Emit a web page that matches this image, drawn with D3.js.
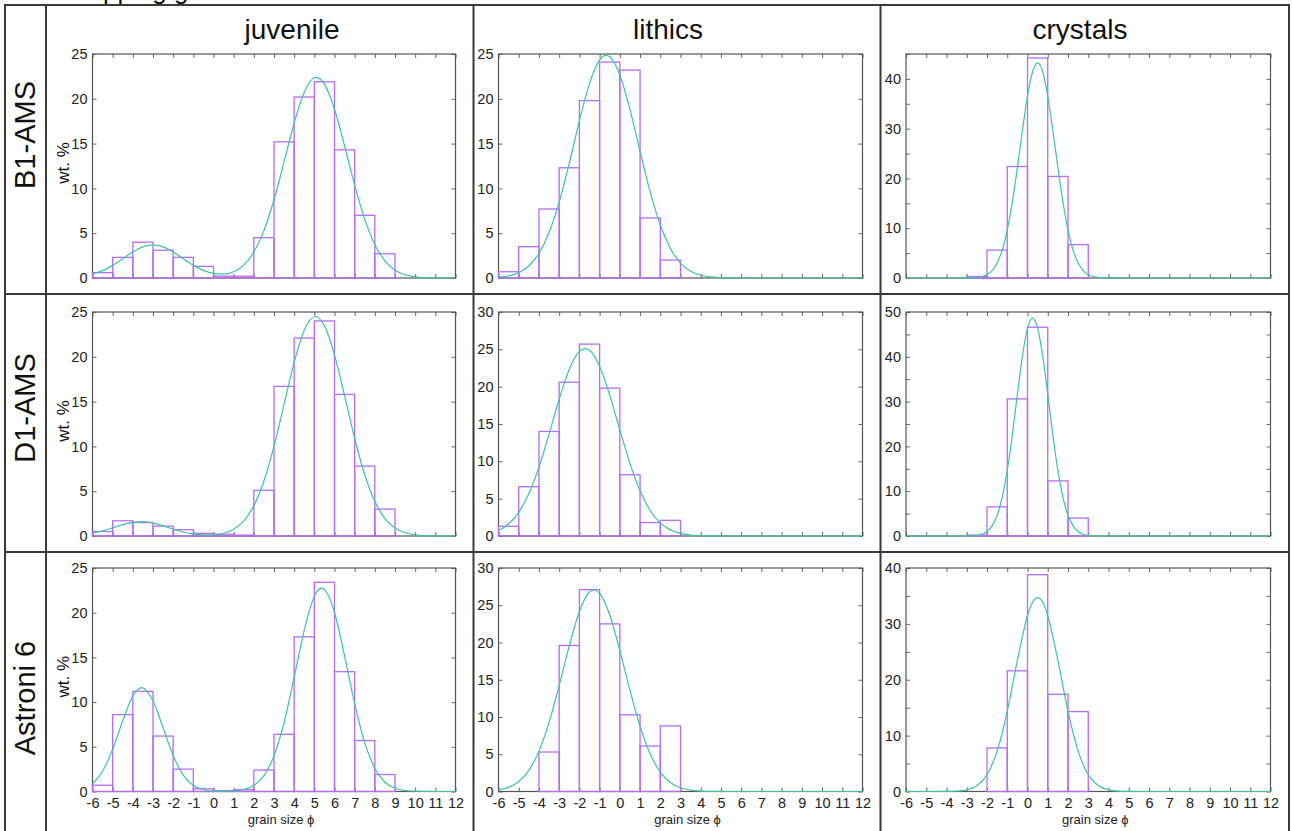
<!DOCTYPE html>
<html>
<head>
<meta charset="utf-8">
<script src="https://cdn.jsdelivr.net/npm/d3@7/dist/d3.min.js"></script>
<style>
  body { margin: 0; background: #fff; overflow: hidden; }
  svg { display: block; font-family: "Liberation Sans", Arial, sans-serif; }
</style>
</head>
<body>
<svg id="chart" width="1292" height="831"></svg>
<script>
// rows / columns of the table
var samples = ["B1-AMS", "D1-AMS", "Astroni 6"];
var components = ["juvenile", "lithics", "crystals"];

// histogram bins, 1 phi wide, lower edges
var binStarts = [-6, -5, -4, -3, -2, -1, 0, 1, 2, 3, 4, 5, 6, 7, 8, 9, 10, 11];
var phiTicks = [-6, -5, -4, -3, -2, -1, 0, 1, 2, 3, 4, 5, 6, 7, 8, 9, 10, 11, 12];

// wt.% per bin
var b1Juvenile = [0.6, 2.3, 4.0, 3.1, 2.3, 1.3, 0.2, 0.2, 4.5, 15.2, 20.2, 21.9, 14.3, 7.0, 2.7, 0, 0, 0];
var b1Lithics = [0.7, 3.5, 7.7, 12.3, 19.8, 24.1, 23.2, 6.7, 2.0, 0, 0, 0, 0, 0, 0, 0, 0, 0];
var b1Crystals = [0, 0, 0, 0.3, 5.6, 22.4, 44.2, 20.4, 6.7, 0, 0, 0, 0, 0, 0, 0, 0, 0];
var d1Juvenile = [0.5, 1.7, 1.5, 1.1, 0.7, 0.3, 0.2, 0.1, 5.1, 16.7, 22.1, 24.0, 15.8, 7.8, 3.0, 0, 0, 0];
var d1Lithics = [1.3, 6.6, 14.0, 20.6, 25.7, 19.8, 8.2, 1.8, 2.1, 0, 0, 0, 0, 0, 0, 0, 0, 0];
var d1Crystals = [0, 0, 0, 0.2, 6.5, 30.6, 46.6, 12.3, 4.0, 0, 0, 0, 0, 0, 0, 0, 0, 0];
var a6Juvenile = [0.7, 8.6, 11.2, 6.2, 2.5, 0.3, 0.1, 0.2, 2.4, 6.4, 17.3, 23.4, 13.4, 5.7, 1.9, 0, 0, 0];
var a6Lithics = [0, 0, 5.3, 19.6, 27.1, 22.5, 10.3, 6.1, 8.8, 0, 0, 0, 0, 0, 0, 0, 0, 0];
var a6Crystals = [0, 0, 0, 0, 7.8, 21.6, 38.8, 17.4, 14.3, 0, 0, 0, 0, 0, 0, 0, 0, 0];

// fitted curves, [phi, wt.%]
var b1JuvenileFit = [[-6,0.42],[-5.5,0.82],[-5,1.41],[-4.5,2.15],[-4,2.91],[-3.5,3.48],[-3,3.70],[-2.5,3.48],[-2,2.91],[-1.5,2.15],[-1,1.41],[-0.5,0.85],[0,0.51],[0.5,0.43],[1,0.70],[1.5,1.43],[2,2.89],[2.5,5.29],[3,8.73],[3.5,12.96],[4,17.3],[4.5,20.74],[5,22.35],[5.1,22.4],[5.5,21.64],[6,18.84],[6.5,14.73],[7,10.36],[7.5,6.54],[8,3.71],[8.5,1.90],[9,0.87],[9.5,0.36],[10,0.13],[10.5,0.04],[11,0.01],[11.5,0],[12,0]];
var b1LithicsFit = [[-6,0.09],[-5.5,0.24],[-5,0.59],[-4.5,1.34],[-4,2.74],[-3.5,5.07],[-3,8.47],[-2.5,12.82],[-2,17.54],[-1.5,21.72],[-1,24.35],[-0.68,24.85],[-0.5,24.69],[0,22.66],[0.5,18.81],[1,14.13],[1.5,9.61],[2,5.91],[2.5,3.29],[3,1.65],[3.5,0.75],[4,0.31],[4.5,0.12],[5,0.04],[5.5,0.01],[6,0],[12,0]];
var b1CrystalsFit = [[-6,0],[-3.5,0],[-3,0.01],[-2.5,0.11],[-2,0.67],[-1.75,1.48],[-1.5,3.0],[-1.25,5.61],[-1,9.64],[-0.75,15.25],[-0.5,22.18],[-0.25,29.69],[0,36.56],[0.25,41.44],[0.5,43.2],[0.75,41.44],[1,36.56],[1.25,29.69],[1.5,22.18],[1.75,15.25],[2,9.64],[2.25,5.61],[2.5,3.0],[2.75,1.48],[3,0.67],[3.5,0.11],[4,0.01],[4.5,0],[12,0]];
var d1JuvenileFit = [[-6,0.31],[-5.5,0.57],[-5,0.91],[-4.5,1.27],[-4,1.53],[-3.5,1.60],[-3,1.44],[-2.5,1.13],[-2,0.77],[-1.5,0.45],[-1,0.23],[-0.5,0.13],[0,0.15],[0.5,0.31],[1,0.75],[1.5,1.68],[2,3.39],[2.5,6.14],[3,10.02],[3.5,14.70],[4,19.38],[4.5,22.97],[5.05,24.5],[5.5,23.47],[6,20.22],[6.5,15.66],[7,10.91],[7.5,6.83],[8,3.85],[8.5,1.95],[9,0.89],[9.5,0.36],[10,0.13],[10.5,0.04],[11,0.01],[11.5,0],[12,0]];
var d1LithicsFit = [[-6,0.74],[-5.5,1.61],[-5,3.17],[-4.5,5.68],[-4,9.23],[-3.5,13.65],[-3,18.32],[-2.5,22.33],[-2,24.72],[-1.72,25.1],[-1.5,24.87],[-1,22.72],[-0.5,18.86],[0,14.21],[0.5,9.73],[1,6.05],[1.5,3.42],[2,1.75],[2.5,0.82],[3,0.35],[3.5,0.13],[4,0.05],[4.5,0.02],[5,0.01],[5.5,0],[12,0]];
var d1CrystalsFit = [[-6,0],[-3.5,0],[-3,0.01],[-2.5,0.14],[-2.25,0.40],[-2,0.99],[-1.75,2.25],[-1.5,4.62],[-1.25,8.62],[-1,14.64],[-0.75,22.57],[-0.5,31.60],[-0.25,40.18],[0,46.41],[0.25,48.70],[0.5,46.41],[0.75,40.18],[1,31.60],[1.25,22.57],[1.5,14.64],[1.75,8.62],[2,4.62],[2.25,2.25],[2.5,0.99],[2.75,0.40],[3,0.14],[3.5,0.01],[4,0],[12,0]];
var a6JuvenileFit = [[-6,0.87],[-5.5,2.26],[-5,4.72],[-4.5,7.92],[-4,10.68],[-3.56,11.62],[-3,10.14],[-2.5,7.13],[-2,4.03],[-1.5,1.84],[-1,0.67],[-0.5,0.20],[0,0.05],[0.5,0.01],[1,0.06],[1.5,0.22],[2,0.67],[2.5,1.77],[3,3.99],[3.5,7.72],[4,12.76],[4.5,18.06],[5,21.85],[5.36,22.75],[5.5,22.61],[6,20.02],[6.5,15.16],[7,9.82],[7.5,5.44],[8,2.58],[8.5,1.04],[9,0.36],[9.5,0.11],[10,0.03],[10.5,0.01],[11,0],[12,0]];
var a6LithicsFit = [[-6,0.21],[-5.5,0.56],[-5,1.34],[-4.5,2.84],[-4,5.42],[-3.5,9.27],[-3,14.22],[-2.5,19.57],[-2,24.17],[-1.5,26.77],[-1.28,27.05],[-1,26.59],[-0.5,23.70],[0,18.94],[0.5,13.58],[1,8.74],[1.5,5.04],[2,2.61],[2.5,1.21],[3,0.50],[3.5,0.19],[4,0.06],[4.5,0.02],[5,0.01],[5.5,0],[12,0]];
var a6CrystalsFit = [[-6,0],[-4.5,0],[-4,0.01],[-3.5,0.07],[-3,0.29],[-2.5,1.02],[-2,2.99],[-1.5,7.23],[-1,14.36],[-0.5,23.45],[0,31.46],[0.25,33.86],[0.5,34.7],[0.75,33.86],[1,31.46],[1.5,23.45],[2,14.36],[2.5,7.23],[3,2.99],[3.5,1.02],[4,0.29],[4.5,0.07],[5,0.01],[5.5,0],[12,0]];

// y axis tops and labelled ticks
var yTops = [[25, 25, 45], [25, 30, 50], [25, 30, 40]];
var yLabels25 = [0, 5, 10, 15, 20, 25];
var yLabels30 = [0, 5, 10, 15, 20, 25, 30];
var yLabels45 = [0, 10, 20, 30, 40];
var yLabels50 = [0, 10, 20, 30, 40, 50];
var yLabels40 = [0, 10, 20, 30, 40];

var barData = [[b1Juvenile, b1Lithics, b1Crystals], [d1Juvenile, d1Lithics, d1Crystals], [a6Juvenile, a6Lithics, a6Crystals]];
var fitData = [[b1JuvenileFit, b1LithicsFit, b1CrystalsFit], [d1JuvenileFit, d1LithicsFit, d1CrystalsFit], [a6JuvenileFit, a6LithicsFit, a6CrystalsFit]];
var labelData = [[yLabels25, yLabels25, yLabels45], [yLabels25, yLabels30, yLabels50], [yLabels25, yLabels30, yLabels40]];

// layout
var colLeft = [92.5, 498.5, 906];
var colRight = [455.5, 862.5, 1270.5];
var rowTop = [54, 312, 568];
var rowBottom = [278, 536, 791.5];
var titleX = [292, 668, 1080];
var sampleY = [135, 408, 698];
var tickLen = 4;

var barColor = "#b86cf0";
var fitColor = "#3cc4a8";
var frameColor = "#555";

var svg = d3.select("#chart");

// heading cut off by the top edge, only its descenders show
svg.append("text")
  .attr("x", 67)
  .attr("y", -1)
  .attr("font-size", 26)
  .attr("fill", "#111")
  .text("Mapping grain size");

// table lines
var grid = svg.append("g").attr("stroke", "#3a3a3a").attr("stroke-width", 2).attr("fill", "none");
grid.append("rect").attr("x", 5).attr("y", 5).attr("width", 1284).attr("height", 840);
[46, 473.5, 880.5].forEach(function(x) {
  grid.append("line").attr("x1", x).attr("x2", x).attr("y1", 5).attr("y2", 845);
});
[294, 552].forEach(function(y) {
  grid.append("line").attr("x1", 5).attr("x2", 1289).attr("y1", y).attr("y2", y);
});

// column titles
components.forEach(function(name, c) {
  svg.append("text")
    .attr("x", titleX[c])
    .attr("y", 39)
    .attr("text-anchor", "middle")
    .attr("font-size", 28)
    .attr("fill", "#111")
    .text(name);
});

// row labels
samples.forEach(function(name, r) {
  svg.append("text")
    .attr("transform", "translate(25," + sampleY[r] + ") rotate(-90)")
    .attr("dy", "0.36em")
    .attr("text-anchor", "middle")
    .attr("font-size", 29)
    .attr("fill", "#111")
    .text(name);
});

var line = d3.line().curve(d3.curveMonotoneX);

for (var r = 0; r < 3; r++) {
  for (var c = 0; c < 3; c++) {
    drawPanel(r, c);
  }
}

function drawPanel(r, c) {
  var x = d3.scaleLinear().domain([-6, 12]).range([colLeft[c], colRight[c]]);
  var y = d3.scaleLinear().domain([0, yTops[r][c]]).range([rowBottom[r], rowTop[r]]);
  var labels = labelData[r][c];
  var minor = d3.range(0, yTops[r][c] + 0.001, 5);
  var g = svg.append("g");

  // inward ticks on all four sides
  var left = d3.axisLeft(y).tickValues(minor).tickSizeInner(-tickLen).tickSizeOuter(0).tickPadding(5)
    .tickFormat(function(d) { return labels.indexOf(d) >= 0 ? d : ""; });
  var right = d3.axisRight(y).tickValues(minor).tickSizeInner(-tickLen).tickSizeOuter(0).tickFormat("");
  var top = d3.axisTop(x).tickValues(phiTicks).tickSizeInner(-tickLen).tickSizeOuter(0).tickFormat("");
  var bottom = d3.axisBottom(x).tickValues(phiTicks).tickSizeInner(-tickLen).tickSizeOuter(0).tickPadding(6)
    .tickFormat(function(d) { return r === 2 ? d : ""; });

  var axes = [
    g.append("g").attr("transform", "translate(" + colLeft[c] + ",0)").call(left),
    g.append("g").attr("transform", "translate(" + colRight[c] + ",0)").call(right),
    g.append("g").attr("transform", "translate(0," + rowTop[r] + ")").call(top),
    g.append("g").attr("transform", "translate(0," + rowBottom[r] + ")").call(bottom)
  ];
  axes.forEach(function(a) {
    a.select(".domain").remove();
    a.selectAll(".tick line").attr("stroke", "#666");
    a.selectAll(".tick text").attr("fill", "#222").style("font-size", "14.5px")
      .style("font-family", "'Liberation Sans', Arial, sans-serif");
  });

  g.append("rect")
    .attr("x", colLeft[c]).attr("y", rowTop[r])
    .attr("width", colRight[c] - colLeft[c]).attr("height", rowBottom[r] - rowTop[r])
    .attr("fill", "none").attr("stroke", frameColor).attr("stroke-width", 1.2);

  // histogram bars, outlined
  var bins = binStarts.map(function(s, i) { return { start: s, value: barData[r][c][i] }; })
    .filter(function(d) { return d.value > 0; });
  g.selectAll("rect.bar").data(bins).enter().append("rect")
    .attr("class", "bar")
    .attr("x", function(d) { return x(d.start); })
    .attr("y", function(d) { return y(d.value); })
    .attr("width", function(d) { return x(d.start + 1) - x(d.start); })
    .attr("height", function(d) { return y(0) - y(d.value); })
    .attr("fill", "none")
    .attr("stroke", barColor)
    .attr("stroke-width", 1.3);

  // fitted curve
  line.x(function(d) { return x(d[0]); }).y(function(d) { return y(d[1]); });
  g.append("path")
    .datum(fitData[r][c])
    .attr("d", line)
    .attr("fill", "none")
    .attr("stroke", fitColor)
    .attr("stroke-width", 1.2);

  if (c === 0) {
    svg.append("text")
      .attr("transform", "translate(63," + ((rowTop[r] + rowBottom[r]) / 2 - 3) + ") rotate(-90)")
      .attr("dy", "0.35em")
      .attr("text-anchor", "middle")
      .attr("font-size", 17)
      .attr("fill", "#111")
      .text("wt. %");
  }
  if (r === 2) {
    svg.append("text")
      .attr("x", (colLeft[c] + colRight[c]) / 2 + 7)
      .attr("y", 823.5)
      .attr("text-anchor", "middle")
      .attr("font-size", 13)
      .attr("fill", "#222")
      .text("grain size ϕ");
  }
}
</script>
</body>
</html>
